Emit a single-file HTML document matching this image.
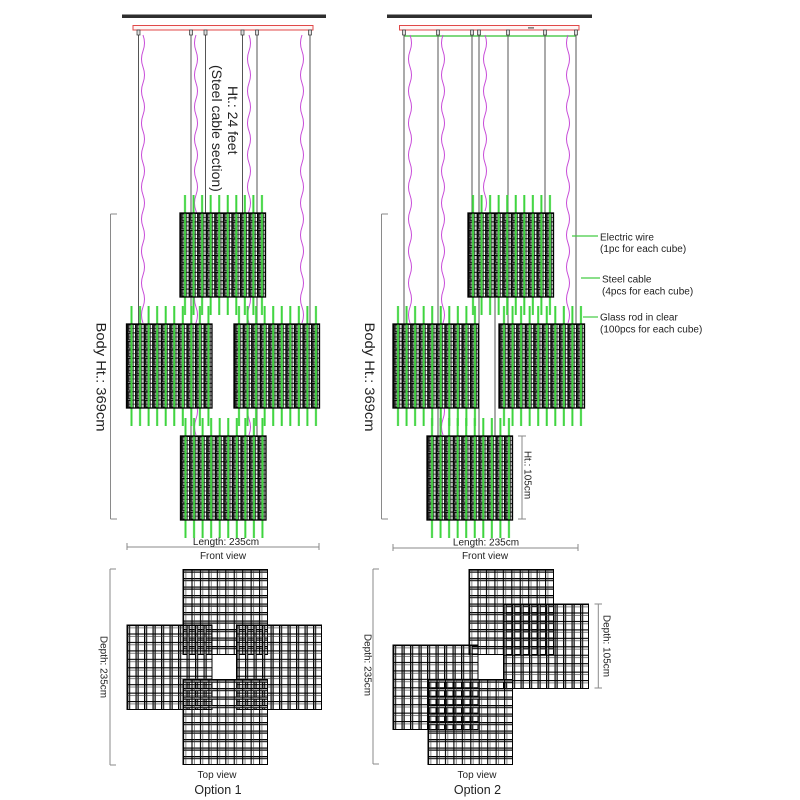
<!DOCTYPE html>
<html><head><meta charset="utf-8"><style>html,body{margin:0;padding:0;background:#fff}svg{display:block}text{font-family:"Liberation Sans",Arial,sans-serif;fill:#222}</style></head>
<body>
<svg width="800" height="800" viewBox="0 0 800 800" xmlns="http://www.w3.org/2000/svg">
<defs>
 <pattern id="fg" width="8.55" height="8.4" patternUnits="userSpaceOnUse">
  <rect width="8.55" height="8.4" fill="#fff"/>
  <rect x="2" y="0.9" width="3.4" height="6.6" fill="#8c8c8c" stroke="#000" stroke-width="0.9"/>
  <rect width="1.4" height="8.4" fill="#000"/>
  <rect width="8.55" height="1" fill="#000"/>
  <rect x="6.4" width="0.8" height="8.4" fill="#111"/>
  <rect y="4.2" width="8.55" height="0.7" fill="#111"/>
 </pattern>
 <pattern id="gr" width="8.55" height="200" patternUnits="userSpaceOnUse">
  <rect x="4" width="2" height="200" fill="#3ed43e"/>
 </pattern>
 <pattern id="th" width="8.45" height="8.5" patternUnits="userSpaceOnUse">
  <rect width="8.45" height="3" fill="#a8a8a8"/>
  <rect width="8.45" height="1" fill="#000"/>
  <rect y="2.3" width="8.45" height="0.9" fill="#000"/>
  <rect width="1.1" height="8.5" fill="#000"/>
  <rect x="2.6" width="0.6" height="8.5" fill="#333"/>
 </pattern>
 <pattern id="tv" width="8.5" height="8.45" patternUnits="userSpaceOnUse">
  <rect width="3" height="8.45" fill="#a8a8a8"/>
  <rect width="1" height="8.45" fill="#000"/>
  <rect x="2.3" width="0.9" height="8.45" fill="#000"/>
  <rect width="8.5" height="1.1" fill="#000"/>
  <rect y="2.6" width="8.5" height="0.6" fill="#333"/>
 </pattern>
 <g id="fc">
  <rect width="85.5" height="84" fill="url(#fg)"/>
  <rect x="0" y="-18" width="85.5" height="120" fill="url(#gr)"/>
  <rect width="85.5" height="84" fill="none" stroke="#000" stroke-width="1.3"/>
 </g>
 <g id="tch">
  <rect width="84.5" height="85" fill="url(#th)"/>
  <rect width="84.5" height="85" fill="none" stroke="#000" stroke-width="1"/>
 </g>
 <g id="tcv">
  <rect width="85" height="84.5" fill="url(#tv)"/>
  <rect width="85" height="84.5" fill="none" stroke="#000" stroke-width="1"/>
 </g>
</defs>
<rect width="800" height="800" fill="#fff"/>

<!-- ceilings -->
<rect x="122" y="14.5" width="204" height="3.5" fill="#2e2e2e"/>
<rect x="387" y="14.5" width="205" height="3.5" fill="#2e2e2e"/>
<rect x="133" y="25.5" width="180" height="4.5" fill="#fff5f5" stroke="#e04848" stroke-width="1"/>
<rect x="399.5" y="25.5" width="179.5" height="4.5" fill="#fff5f5" stroke="#e04848" stroke-width="1"/>
<rect x="528" y="27.3" width="6" height="1.2" fill="#555"/>
<line x1="404" y1="36" x2="576" y2="36" stroke="#5c5" stroke-width="1.5"/>

<!-- cables -->
<g stroke="#555" stroke-width="1">
 <line x1="138.5" y1="33" x2="138.5" y2="324"/>
 <line x1="191" y1="33" x2="191" y2="436"/>
 <line x1="205.5" y1="33" x2="205.5" y2="213"/>
 <line x1="242.5" y1="33" x2="242.5" y2="213"/>
 <line x1="257" y1="33" x2="257" y2="436"/>
 <line x1="310" y1="33" x2="310" y2="324"/>
 <line x1="404" y1="33" x2="404" y2="324"/>
 <line x1="438" y1="33" x2="438" y2="436"/>
 <line x1="472" y1="33" x2="472" y2="213"/>
 <line x1="479" y1="33" x2="479" y2="436"/>
 <line x1="508" y1="33" x2="508" y2="324"/>
 <line x1="545" y1="33" x2="545" y2="213"/>
 <line x1="576" y1="33" x2="576" y2="324"/>
 <line x1="495" y1="297" x2="495" y2="436"/>
</g>
<g fill="none" stroke="#c84bd8" stroke-width="1">
 <path d="M143 35 q3 8 0 16 t0 16 t0 16 t0 16 t0 16 t0 16 t0 16 t0 16 t0 16 t0 16 t0 16 t0 16 t0 16 t0 16 t0 16 t0 16 t0 16 t0 16"/>
 <path d="M196 35 q-3 8 0 16 t0 16 t0 16 t0 16 t0 16 t0 16 t0 16 t0 16 t0 16 t0 16 t0 16 t0 16 t0 16 t0 16 t0 16 t0 16 t0 16 t0 16 t0 16 t0 16 t0 16 t0 16 t0 16 t0 16 t0 16"/>
 <path d="M249 35 q3 8 0 16 t0 16 t0 16 t0 16 t0 16 t0 16 t0 16 t0 16 t0 16 t0 16 t0 16 t0 16 t0 16 t0 16 t0 16 t0 16 t0 16 t0 16 t0 16 t0 16 t0 16 t0 16 t0 16 t0 16 t0 16"/>
 <path d="M302 35 q-3 8 0 16 t0 16 t0 16 t0 16 t0 16 t0 16 t0 16 t0 16 t0 16 t0 16 t0 16 t0 16 t0 16 t0 16 t0 16 t0 16 t0 16 t0 16"/>
 <path d="M410 35 q3 8 0 16 t0 16 t0 16 t0 16 t0 16 t0 16 t0 16 t0 16 t0 16 t0 16 t0 16 t0 16 t0 16 t0 16 t0 16 t0 16 t0 16 t0 16"/>
 <path d="M443 35 q-3 8 0 16 t0 16 t0 16 t0 16 t0 16 t0 16 t0 16 t0 16 t0 16 t0 16 t0 16 t0 16 t0 16 t0 16 t0 16 t0 16 t0 16 t0 16 t0 16 t0 16 t0 16 t0 16 t0 16 t0 16 t0 16"/>
 <path d="M485 35 q3 8 0 16 t0 16 t0 16 t0 16 t0 16 t0 16 t0 16 t0 16 t0 16 t0 16 t0 16"/>
 <path d="M568 35 q-3 8 0 16 t0 16 t0 16 t0 16 t0 16 t0 16 t0 16 t0 16 t0 16 t0 16 t0 16 t0 16 t0 16 t0 16 t0 16 t0 16 t0 16 t0 16"/>
</g>
<!-- connectors -->
<g fill="#ddd" stroke="#333" stroke-width="0.7">
 <rect x="137" y="30" width="3" height="5"/><rect x="189.5" y="30" width="3" height="5"/><rect x="204" y="30" width="3" height="5"/>
 <rect x="241" y="30" width="3" height="5"/><rect x="255.5" y="30" width="3" height="5"/><rect x="308.5" y="30" width="3" height="5"/>
 <rect x="402.5" y="30" width="3" height="5"/><rect x="436.5" y="30" width="3" height="5"/><rect x="470.5" y="30" width="3" height="5"/>
 <rect x="477.5" y="30" width="3" height="5"/><rect x="506.5" y="30" width="3" height="5"/><rect x="543.5" y="30" width="3" height="5"/>
 <rect x="574.5" y="30" width="3" height="5"/>
</g>

<!-- front cubes -->
<use href="#fc" x="180" y="213"/>
<use href="#fc" x="126.5" y="324"/>
<use href="#fc" x="234" y="324"/>
<use href="#fc" x="180.5" y="436"/>
<use href="#fc" x="468" y="213"/>
<use href="#fc" x="393" y="324"/>
<use href="#fc" x="499" y="324"/>
<use href="#fc" x="427" y="436"/>

<!-- top view cubes -->
<use href="#tch" x="183" y="569.5"/>
<use href="#tcv" x="127" y="625"/>
<use href="#tcv" x="236.5" y="625"/>
<use href="#tch" x="183" y="679.5"/>
<use href="#tch" x="469" y="569.5"/>
<use href="#tcv" x="503.5" y="604"/>
<use href="#tcv" x="393" y="645"/>
<use href="#tch" x="428" y="679.5"/>

<!-- dimension lines -->
<g stroke="#8a8a8a" stroke-width="1" fill="none">
 <path d="M110.5 214 V519 M110.5 214 H117 M110.5 519 H117"/>
 <path d="M381.5 214 V519 M381.5 214 H388 M381.5 519 H388"/>
 <path d="M127 547 H319 M127 543 V550 M319 543 V550"/>
 <path d="M393 548 H578 M393 544 V551 M578 544 V551"/>
 <path d="M522 436 V519 M518 436 H526 M518 519 H526"/>
 <path d="M110 569 V765 M110 569 H116 M110 765 H116"/>
 <path d="M373 569 V764 M373 569 H379 M373 764 H379"/>
 <path d="M598.3 604 V688 M594.5 604 H602 M594.5 688 H602"/>
</g>

<!-- leader lines -->
<g stroke="#4c4" stroke-width="1.2">
 <line x1="572" y1="236" x2="598" y2="236"/>
 <line x1="581" y1="278" x2="600" y2="278"/>
 <line x1="583" y1="317" x2="598" y2="317"/>
</g>

<!-- texts -->
<text font-size="14" transform="translate(233,86) rotate(90)" dominant-baseline="central">Ht.: 24 feet</text>
<text font-size="14" transform="translate(217,65) rotate(90)" dominant-baseline="central">(Steel cable section)</text>
<text font-size="13.5" transform="translate(101,377) rotate(90)" text-anchor="middle" dominant-baseline="central" textLength="109" lengthAdjust="spacingAndGlyphs">Body Ht.: 369cm</text>
<text font-size="13.5" transform="translate(369.5,377) rotate(90)" text-anchor="middle" dominant-baseline="central" textLength="109" lengthAdjust="spacingAndGlyphs">Body Ht.: 369cm</text>
<text font-size="10" transform="translate(527,475) rotate(90)" text-anchor="middle" dominant-baseline="central">Ht.: 105cm</text>
<text font-size="10" transform="translate(103,667) rotate(90)" text-anchor="middle" dominant-baseline="central">Depth: 235cm</text>
<text font-size="10" transform="translate(367,665) rotate(90)" text-anchor="middle" dominant-baseline="central">Depth: 235cm</text>
<text font-size="10" transform="translate(606,646) rotate(90)" text-anchor="middle" dominant-baseline="central">Depth: 105cm</text>

<g font-size="10" text-anchor="middle">
 <text x="226" y="545">Length: 235cm</text>
 <text x="223" y="559">Front view</text>
 <text x="486" y="545.5">Length: 235cm</text>
 <text x="485" y="559">Front view</text>
 <text x="217" y="778">Top view</text>
 <text x="477" y="778">Top view</text>
</g>
<g font-size="12.5" text-anchor="middle">
 <text x="218" y="794">Option 1</text>
 <text x="477.5" y="794">Option 2</text>
</g>
<g font-size="10">
 <text x="600" y="240.3">Electric wire</text>
 <text x="600" y="251.8">(1pc for each cube)</text>
 <text x="602" y="282.5">Steel cable</text>
 <text x="602" y="294.5">(4pcs for each cube)</text>
 <text x="600" y="320.5">Glass rod in clear</text>
 <text x="600" y="332.5">(100pcs for each cube)</text>
</g>
</svg>
</body></html>
